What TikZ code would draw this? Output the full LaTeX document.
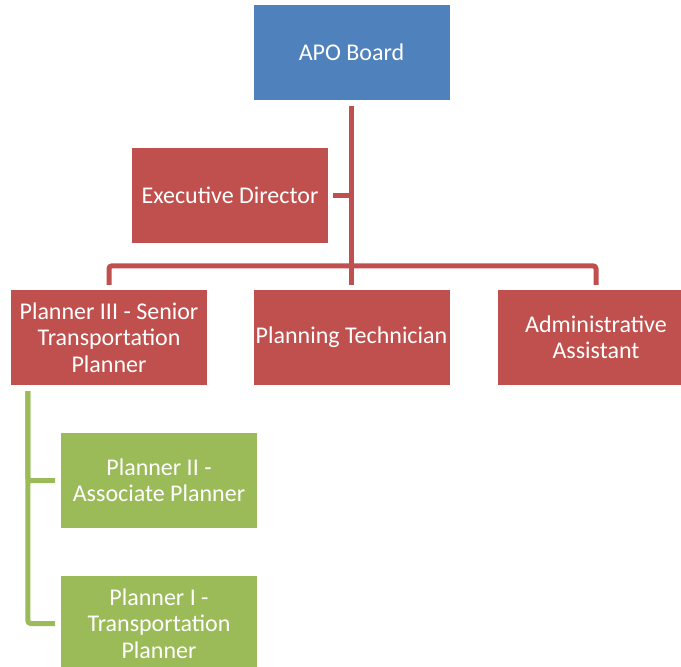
\documentclass[tikz,border=0pt]{standalone}
\usepackage{fontspec}
\setmainfont{Carlito}
\usepackage{tikz}
\definecolor{apoblue}{HTML}{4F81BD}
\definecolor{apored}{HTML}{C0504D}
\definecolor{apogreen}{HTML}{9BBB59}

\begin{document}
\begin{tikzpicture}[x=1pt,y=1pt,
    box/.style={minimum width=196pt, minimum height=95pt, inner sep=0pt,
      align=center, text=white, font=\fontsize{24}{26.5}\selectfont},
    redline/.style={draw=apored, line width=5pt},
    greenline/.style={draw=apogreen, line width=5pt}]
   \useasboundingbox (0,0) rectangle (681,-667);

   \node[box, fill=apoblue] (board) at (351.5,-52) {APO Board};
   \node[box, fill=apored] (exec) at (230,-195) {Executive Director};
   \node[box, fill=apored] (senior) at (109,-337.5) {Planner III - Senior\\Transportation\\Planner};
   \node[box, fill=apored] (tech) at (351.5,-337.5) {Planning Technician};
   \node[box, fill=apored] (admin) at (596,-337.5) {Administrative\\Assistant};
   \node[box, fill=apogreen] (assoc) at (159,-480.5) {Planner II -\\Associate Planner};
   \node[box, fill=apogreen] (trans) at (159,-623.5) {Planner I -\\Transportation\\Planner};

   % board to staff
   \draw[redline] ([yshift=-6]board.south) -- ([yshift=5]tech.north);
   \draw[redline] ([xshift=5]exec.east) -- (exec.east -| board.south);
   \draw[redline, rounded corners=3] ([yshift=5]senior.north) |- ([yshift=24]tech.north)
      -| ([yshift=5]admin.north);

   % planners
   \draw[greenline, rounded corners=3] ([xshift=17,yshift=-6]senior.south west) |- ([xshift=-6]assoc.west);
   \draw[greenline, rounded corners=3] ([xshift=17,yshift=-6]senior.south west) |- ([xshift=-6]trans.west);
\end{tikzpicture}
\end{document}
